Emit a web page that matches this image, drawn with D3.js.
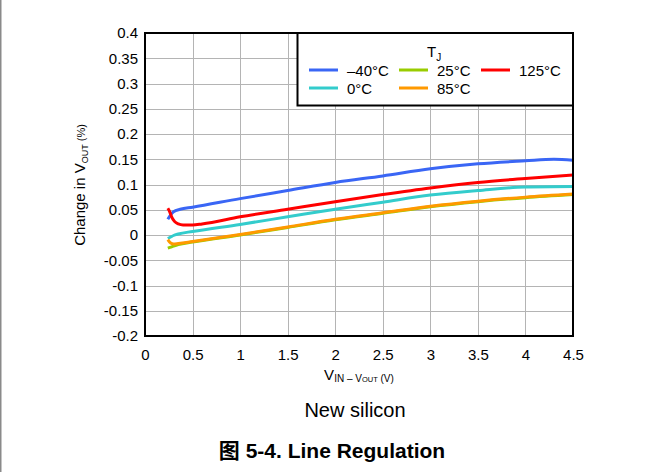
<!DOCTYPE html>
<html><head><meta charset="utf-8">
<script src="https://cdn.jsdelivr.net/npm/d3@7"></script>
<style>
html,body{margin:0;padding:0;background:#fff;}
svg{display:block;font-family:"Liberation Sans",Arial,sans-serif;}
</style></head>
<body>
<svg id="chart" width="664" height="472"></svg>
<script>
// ---- data ----
const xTicks = [0, 0.5, 1, 1.5, 2, 2.5, 3, 3.5, 4, 4.5];
const yTicks = [-0.2, -0.15, -0.1, -0.05, 0, 0.05, 0.1, 0.15, 0.2, 0.25, 0.3, 0.35, 0.4];

const m40X = [0.24, 0.27, 0.30, 0.37, 0.5, 1.0, 1.5, 2.0, 2.5, 3.0, 3.5, 4.0, 4.3, 4.5];
const m40Y = [0.031, 0.040, 0.046, 0.051, 0.055, 0.072, 0.088, 0.104, 0.117, 0.131, 0.141, 0.147, 0.150, 0.148];

const t0X = [0.24, 0.27, 0.30, 0.35, 0.5, 1.0, 1.5, 2.0, 2.5, 3.0, 3.5, 4.0, 4.5];
const t0Y = [-0.007, -0.004, -0.001, 0.002, 0.007, 0.021, 0.036, 0.051, 0.065, 0.079, 0.088, 0.095, 0.096];

const t25X = [0.24, 0.27, 0.30, 0.35, 0.5, 1.0, 1.5, 2.0, 2.5, 3.0, 3.5, 4.0, 4.5];
const t25Y = [-0.026, -0.024, -0.022, -0.019, -0.014, 0.000, 0.015, 0.030, 0.043, 0.056, 0.066, 0.074, 0.080];

const t85X = [0.24, 0.27, 0.30, 0.35, 0.5, 1.0, 1.5, 2.0, 2.5, 3.0, 3.5, 4.0, 4.5];
const t85Y = [-0.009, -0.016, -0.018, -0.017, -0.013, 0.001, 0.016, 0.031, 0.044, 0.057, 0.067, 0.075, 0.081];

const t125X = [0.24, 0.26, 0.28, 0.31, 0.35, 0.4, 0.5, 0.6, 1.0, 1.5, 2.0, 2.5, 3.0, 3.5, 4.0, 4.5];
const t125Y = [0.053, 0.046, 0.036, 0.027, 0.022, 0.020, 0.020, 0.022, 0.036, 0.051, 0.066, 0.080, 0.093, 0.104, 0.112, 0.119];

const seriesNames = ["\u201340\u00B0C", "0\u00B0C", "25\u00B0C", "85\u00B0C", "125\u00B0C"];
const seriesColors = ["#3a66f5", "#33cccc", "#99cc00", "#ff9900", "#ff0000"];

// ---- layout ----
const svg = d3.select("#chart");
const L = 145, R = 573, T = 33, B = 336;
const x = d3.scaleLinear().domain([0, 4.5]).range([L, R]);
const y = d3.scaleLinear().domain([-0.2, 0.4]).range([B, T]);

// page left edge line
svg.append("rect").attr("x", 0).attr("y", 0).attr("width", 1.5).attr("height", 472).attr("fill", "#8a8a8a");

// grid
const grid = svg.append("g");
grid.selectAll("line.h").data(yTicks).join("line")
  .attr("x1", L).attr("x2", R).attr("y1", d => Math.round(y(d)) + 0.5).attr("y2", d => Math.round(y(d)) + 0.5)
  .attr("stroke", "#b4b4b4").attr("stroke-width", 1);
grid.selectAll("line.v").data(xTicks).join("line")
  .attr("y1", T).attr("y2", B).attr("x1", d => Math.round(x(d)) + 0.5).attr("x2", d => Math.round(x(d)) + 0.5)
  .attr("stroke", "#b4b4b4").attr("stroke-width", 1);

// axes tick labels via d3 axes
const fmt = d => String(d);
const yAxis = svg.append("g").attr("transform", `translate(${L},0)`)
  .call(d3.axisLeft(y).tickValues(yTicks).tickFormat(fmt).tickSize(0).tickPadding(7));
const xAxis = svg.append("g").attr("transform", `translate(0,${B})`)
  .call(d3.axisBottom(x).tickValues(xTicks).tickFormat(fmt).tickSize(0).tickPadding(13));
[yAxis, xAxis].forEach(a => {
  a.select(".domain").remove();
  a.selectAll("text").attr("font-size", 15).attr("fill", "#000")
    .attr("font-family", "'Liberation Sans', Arial, sans-serif");
});

// data lines
const clip = svg.append("clipPath").attr("id", "clip").append("rect")
  .attr("x", L).attr("y", T).attr("width", R - L).attr("height", B - T);
const line = d3.line().x(d => x(d[0])).y(d => y(d[1])).curve(d3.curveMonotoneX);
const zip = (a, b) => a.map((v, i) => [v, b[i]]);
const drawOrder = [
  [t25X, t25Y, 2],
  [m40X, m40Y, 0],
  [t0X, t0Y, 1],
  [t85X, t85Y, 3],
  [t125X, t125Y, 4]
];
const lines = svg.append("g").attr("clip-path", "url(#clip)");
drawOrder.forEach(([xs, ys, ci]) => {
  lines.append("path").attr("d", line(zip(xs, ys)))
    .attr("fill", "none").attr("stroke", seriesColors[ci]).attr("stroke-width", 3)
    .attr("stroke-linejoin", "round").attr("stroke-linecap", "butt");
});

// plot border
svg.append("rect").attr("x", L).attr("y", T).attr("width", R - L).attr("height", B - T)
  .attr("fill", "none").attr("stroke", "#000").attr("stroke-width", 2);

// legend
const lg = svg.append("g");
lg.append("rect").attr("x", 297.5).attr("y", T).attr("width", R - 297.5).attr("height", 72.5)
  .attr("fill", "#fff").attr("stroke", "#000").attr("stroke-width", 2);
const tj = lg.append("text").attr("x", 427).attr("y", 57).attr("font-size", 15);
tj.append("tspan").text("T");
tj.append("tspan").attr("font-size", 10).attr("dy", 4).text("J");
const legPos = [[309, 70], [309, 88], [399, 70], [399, 88], [481, 70]];
seriesNames.forEach((n, i) => {
  const [lx, ly] = legPos[i];
  lg.append("line").attr("x1", lx).attr("x2", lx + 29).attr("y1", ly).attr("y2", ly)
    .attr("stroke", seriesColors[i]).attr("stroke-width", 3);
  lg.append("text").attr("x", lx + 38).attr("y", ly + 5.5).attr("font-size", 15).text(n);
});

// axis titles
const xt = svg.append("text").attr("x", 359).attr("y", 380).attr("text-anchor", "middle").attr("font-size", 15);
xt.append("tspan").text("V");
xt.append("tspan").attr("font-size", 10).attr("dy", 2).text("IN \u2013 ");
xt.append("tspan").attr("font-size", 10).text("V");
xt.append("tspan").attr("font-size", 7.5).text("OUT");
xt.append("tspan").attr("font-size", 10).text(" (V)");

const yt = svg.append("text").attr("transform", "translate(85,185) rotate(-90)")
  .attr("text-anchor", "middle").attr("font-size", 15);
yt.append("tspan").text("Change in V");
yt.append("tspan").attr("font-size", 9).attr("dy", 3).text("OUT");
yt.append("tspan").attr("font-size", 11).attr("dy", -3).text(" (%)");

// captions
svg.append("text").attr("x", 355).attr("y", 417).attr("text-anchor", "middle")
  .attr("font-size", 20).text("New silicon");
svg.append("text").attr("x", 332).attr("y", 458).attr("text-anchor", "middle")
  .attr("font-size", 21).attr("font-weight", "bold")
  .attr("font-family", "'Liberation Sans', 'Noto Sans CJK SC', Arial, sans-serif")
  .text("\u56FE 5-4. Line Regulation");
</script>
</body></html>
